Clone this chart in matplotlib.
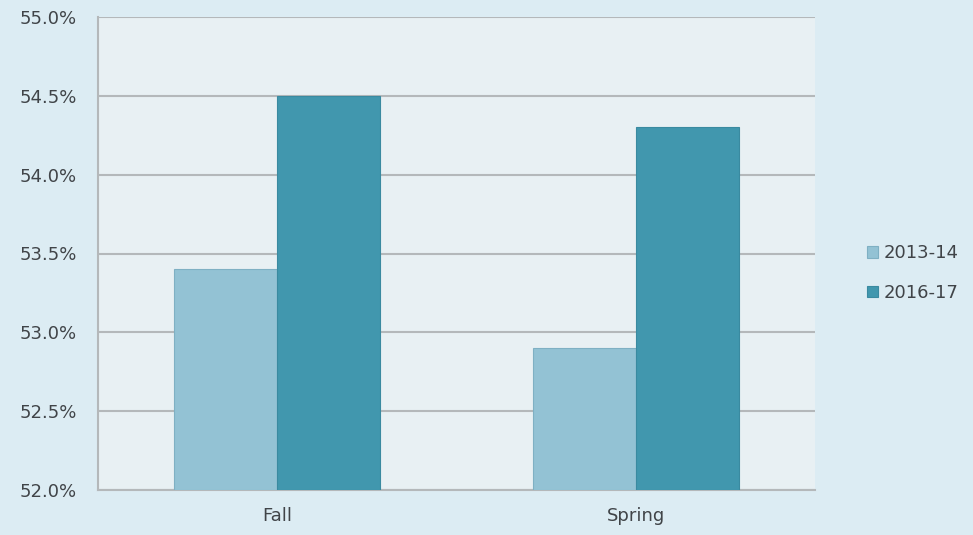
import matplotlib
matplotlib.use("Agg")
import matplotlib.pyplot as plt
import numpy as np
from matplotlib.ticker import FuncFormatter

categories = ["Fall", "Spring"]
series_names = ["2013-14", "2016-17"]
vals_2013 = [53.4, 52.9]
vals_2016 = [54.5, 54.3]
yticks = [52.0, 52.5, 53.0, 53.5, 54.0, 54.5, 55.0]

bg = "#dcecf3"
plot_bg = "#e8f0f3"
c_light = "#93c2d4"
c_dark = "#4197ae"

fig = plt.figure(figsize=(9.73, 5.35), dpi=100, facecolor=bg)
ax = fig.add_axes([98/973, 1-490/535, (815-98)/973, (490-17)/535])
ax.set_facecolor(plot_bg)

x = np.arange(len(categories))
w = 0.287
ax.bar(x - w/2, np.array(vals_2013) - 52.0, w, bottom=52.0, color=c_light,
       edgecolor="#7fb0c3", linewidth=0.8, label=series_names[0], zorder=3)
ax.bar(x + w/2, np.array(vals_2016) - 52.0, w, bottom=52.0, color=c_dark,
       edgecolor="#3a8aa0", linewidth=0.8, label=series_names[1], zorder=3)

ax.set_xlim(-0.5, 1.5)
ax.set_ylim(52.0, 55.0)
ax.set_yticks(yticks)
ax.yaxis.set_major_formatter(FuncFormatter(lambda v, p: f"{v:.1f}%"))
ax.set_xticks(x)
ax.set_xticklabels(categories)
ax.grid(axis="y", color="#b4b8ba", linewidth=1.5, zorder=1)
ax.tick_params(axis="both", length=0, labelsize=13, labelcolor="#404448")
ax.tick_params(axis="y", pad=15)
ax.tick_params(axis="x", pad=12)
for s in ["top", "right"]:
    ax.spines[s].set_visible(False)
ax.spines["left"].set_color("#b4b8ba")
ax.spines["left"].set_linewidth(1.5)
ax.spines["bottom"].set_color("#b4b8ba")
ax.spines["bottom"].set_linewidth(1.5)

leg = fig.legend(loc="center left", bbox_to_anchor=(867/973, 1-273/535),
                 frameon=False, fontsize=13, handlelength=0.6, handleheight=0.6,
                 handletextpad=0.3, labelspacing=1.2, borderaxespad=0,
                 borderpad=0)
for t in leg.get_texts():
    t.set_color("#404448")

fig.savefig("out.png", dpi=100, facecolor=bg)
